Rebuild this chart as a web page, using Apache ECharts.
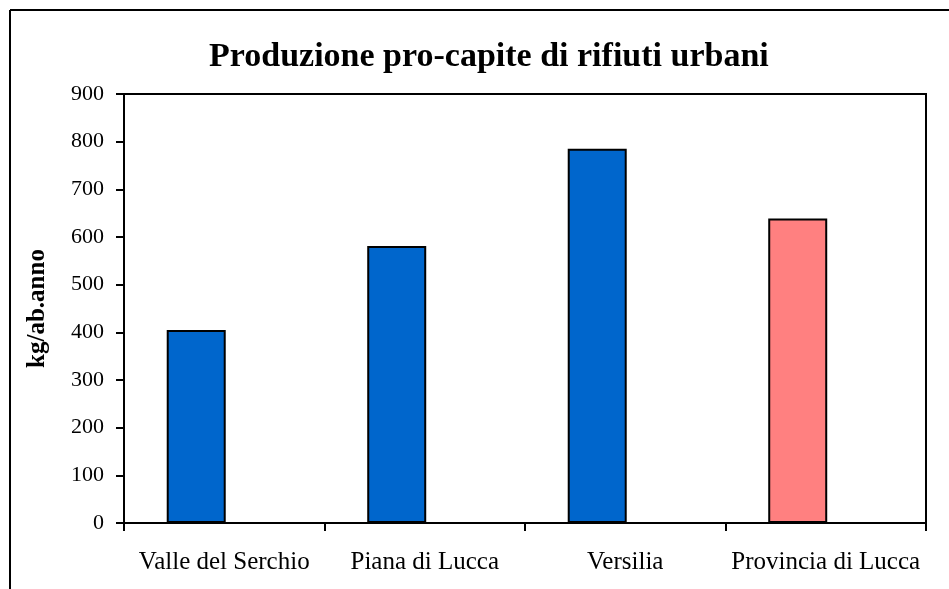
<!DOCTYPE html>
<html lang="it">
<head>
    <meta charset="UTF-8">
    <title>Produzione pro-capite di rifiuti urbani</title>
    <script src="https://cdn.jsdelivr.net/npm/echarts@6/dist/echarts.min.js"></script>
    <style>
        * { margin: 0; padding: 0; }
        body { background: #fff; }
        #chart { width: 949px; height: 589px; }
    </style>
</head>
<body>
    <div id="chart"></div>
    <script>
        // dati
        var categorie = ['Valle del Serchio', 'Piana di Lucca', 'Versilia', 'Provincia di Lucca'];
        var valori = [405, 581, 785, 639];
        var colori = ['#0066cc', '#0066cc', '#0066cc', '#ff8080'];

        var font = '"Liberation Serif", "Times New Roman", serif';
        var myChart = echarts.init(document.getElementById('chart'));

        var barData = valori.map(function (v, i) {
            return { value: v, itemStyle: { color: colori[i] } };
        });

        var option = {
            animation: false,
            backgroundColor: '#fff',
            title: {
                text: 'Produzione pro-capite di rifiuti urbani',
                left: 204,
                top: 35,
                textStyle: { fontFamily: font, fontSize: 34, fontWeight: 'bold', color: '#000' }
            },
            grid: {
                left: 124, right: 23, top: 94, bottom: 66,
                show: true, borderColor: '#000', borderWidth: 2
            },
            xAxis: {
                type: 'category',
                data: categorie,
                axisLine: { lineStyle: { color: '#000', width: 2 } },
                axisTick: { show: true, length: 8, lineStyle: { color: '#000', width: 2 } },
                axisLabel: { interval: 0, margin: 27, fontFamily: font, fontSize: 25, color: '#000' }
            },
            yAxis: {
                type: 'value',
                min: 0, max: 900, interval: 100,
                name: 'kg/ab.anno',
                nameLocation: 'middle',
                nameGap: 74,
                nameTextStyle: { fontFamily: font, fontSize: 25, fontWeight: 'bold', color: '#000' },
                axisLine: { show: true, lineStyle: { color: '#000', width: 2 } },
                axisTick: { show: true, length: 8, lineStyle: { color: '#000', width: 2 } },
                axisLabel: { margin: 20, fontFamily: font, fontSize: 22, color: '#000' },
                splitLine: { show: false }
            },
            series: [{
                type: 'bar',
                data: barData,
                barWidth: 59,
                barGap: '-5%',
                itemStyle: { borderColor: '#000', borderWidth: 2 }
            }, {
                type: 'bar',
                data: [],
                barWidth: 59
            }],
            graphic: [
                { type: 'line', shape: { x1: 10, y1: 10, x2: 949, y2: 10 }, style: { stroke: '#000', lineWidth: 2 } },
                { type: 'line', shape: { x1: 10, y1: 10, x2: 10, y2: 589 }, style: { stroke: '#000', lineWidth: 2 } }
            ]
        };

        myChart.setOption(option);
    </script>
</body>
</html>
